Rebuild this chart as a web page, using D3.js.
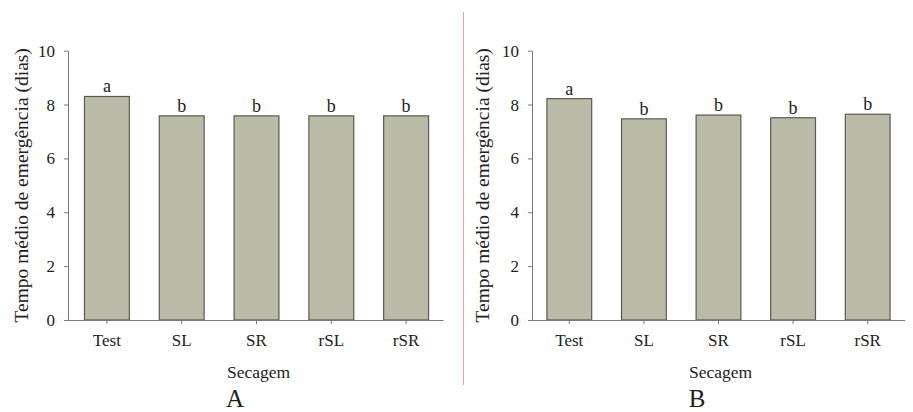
<!DOCTYPE html>
<html>
<head>
<meta charset="utf-8">
<script src="https://cdn.jsdelivr.net/npm/d3@7"></script>
<style>
  body { margin: 0; background: #fff; }
  svg text { font-family: "Liberation Serif", "Times New Roman", serif !important; fill: #222; }
</style>
</head>
<body>
<div id="chart"></div>
<script>
const categories = ["Test", "SL", "SR", "rSL", "rSR"];
const valuesA = [8.30, 7.58, 7.58, 7.58, 7.58];
const valuesB = [8.22, 7.47, 7.61, 7.51, 7.64];
const lettersA = ["a", "b", "b", "b", "b"];
const lettersB = ["a", "b", "b", "b", "b"];
const yTicks = [0, 2, 4, 6, 8, 10];
const yTitle = "Tempo médio de emergência (dias)";
const xTitle = "Secagem";

const width = 913, height = 412;
const serif = "'Liberation Serif', 'Times New Roman', serif";
const svg = d3.select("#chart").append("svg")
  .attr("width", width).attr("height", height)
  .style("font-family", serif);

// divider between the two panels
svg.append("line")
  .attr("x1", 463.5).attr("x2", 463.5)
  .attr("y1", 12).attr("y2", 385)
  .attr("stroke", "#eea4a8").attr("stroke-width", 1);

const panels = [
  { values: valuesA, letters: lettersA, label: "A", axisX: 68, x0: 69.5, x1: 443.5, titleX: 21, labelX: 235 },
  { values: valuesB, letters: lettersB, label: "B", axisX: 532, x0: 532, x1: 905, titleX: 482, labelX: 697 }
];

const y = d3.scaleLinear().domain([0, 10]).range([320, 50.7]);

panels.forEach(p => {
  const g = svg.append("g");
  const x = d3.scaleBand().domain(categories)
    .range([p.x0, p.x1]).paddingInner(0.4).paddingOuter(0.2);

  // bars
  g.selectAll("rect.bar")
    .data(categories)
    .join("rect")
    .attr("class", "bar")
    .attr("x", d => x(d))
    .attr("width", x.bandwidth())
    .attr("y", (d, i) => y(p.values[i]))
    .attr("height", (d, i) => y(0) - y(p.values[i]))
    .attr("fill", "#bbbca8")
    .attr("stroke", "#5a5a55")
    .attr("stroke-width", 1.2);

  // significance letters
  g.selectAll("text.letter")
    .data(categories)
    .join("text")
    .attr("class", "letter")
    .attr("x", d => x(d) + x.bandwidth() / 2)
    .attr("y", (d, i) => y(p.values[i]) - 4)
    .attr("text-anchor", "middle")
    .style("font-size", "18px")
    .text((d, i) => p.letters[i]);

  // y axis
  const yAxis = g.append("g")
    .attr("transform", `translate(${p.axisX},0)`)
    .call(d3.axisLeft(y).tickValues(yTicks).tickSize(4).tickPadding(9).tickSizeOuter(0));
  yAxis.attr("font-family", null);
  yAxis.select(".domain").attr("stroke", "#777");
  yAxis.selectAll(".tick line").attr("stroke", "#777");
  yAxis.selectAll(".tick text").style("font-size", "17px").style("font-family", serif);

  // x axis
  const xAxis = g.append("g")
    .attr("transform", "translate(0,320)")
    .call(d3.axisBottom(x).tickSize(4).tickPadding(10).tickSizeOuter(0));
  xAxis.attr("font-family", null);
  xAxis.select(".domain").attr("stroke", "#777")
    .attr("d", `M${p.axisX - 3},0.5H${p.x1}`);
  xAxis.selectAll(".tick line").attr("stroke", "#777");
  xAxis.selectAll(".tick text").style("font-size", "17px").style("font-family", serif);

  // axis titles
  g.append("text")
    .attr("transform", `translate(${p.titleX},${(y(0) + y(10)) / 2}) rotate(-90)`)
    .attr("text-anchor", "middle")
    .attr("dominant-baseline", "central")
    .style("font-size", "19.5px")
    .text(yTitle);

  g.append("text")
    .attr("x", (p.x0 + p.x1) / 2 + 2)
    .attr("y", 378)
    .attr("text-anchor", "middle")
    .style("font-size", "17.5px")
    .text(xTitle);

  g.append("text")
    .attr("x", p.labelX)
    .attr("y", 407)
    .attr("text-anchor", "middle")
    .style("font-size", "25px")
    .text(p.label);
});
</script>
</body>
</html>
